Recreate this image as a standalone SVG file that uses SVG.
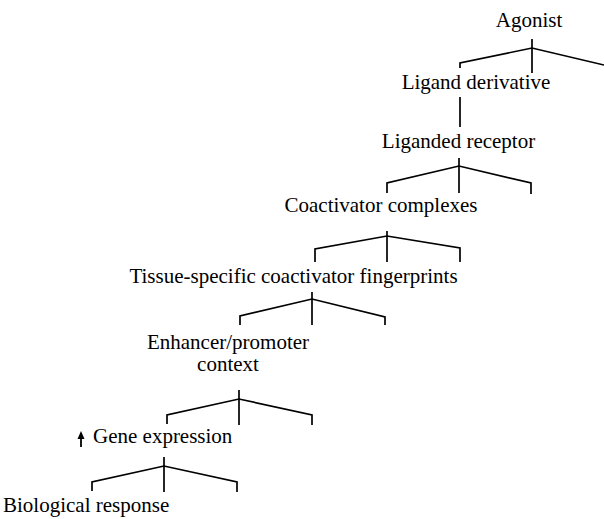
<svg xmlns="http://www.w3.org/2000/svg" width="604" height="519" viewBox="0 0 604 519">
<style>
.t{font-family:"Liberation Serif","Times New Roman",serif;font-size:21px;fill:#000;text-anchor:middle}
.s{text-anchor:start}
.c line,.c polyline{stroke:#000;stroke-width:1.7;fill:none;stroke-linejoin:miter}
</style>
<rect width="604" height="519" fill="#fff"/>
<g id="agonist"><text class="t" x="529" y="27">Agonist</text></g>
<g id="ligand-derivative"><text class="t" x="476" y="89">Ligand derivative</text></g>
<g id="liganded-receptor"><text class="t" x="458.5" y="148">Liganded receptor</text></g>
<g id="coactivator-complexes"><text class="t" x="381" y="212">Coactivator complexes</text></g>
<g id="tissue-specific"><text class="t" x="293.5" y="283">Tissue-specific coactivator fingerprints</text></g>
<g id="enhancer-promoter"><text class="t" x="228" y="349">Enhancer/promoter</text><text class="t" x="228" y="371">context</text></g>
<g id="gene-expression">
<line x1="81" y1="437" x2="81" y2="447" stroke="#000" stroke-width="1.8"/>
<polygon points="81,431 77.5,439 84.5,439" fill="#000"/>
<text class="t s" x="93" y="443">Gene expression</text></g>
<g id="biological-response"><text class="t s" x="3" y="512">Biological response</text></g>
<g id="connectors" class="c">
<line x1="532" y1="39" x2="532" y2="73"/>
<polyline points="460,68 460,63 532,48 604,65"/>
<line x1="460" y1="97" x2="460" y2="127"/>
<line x1="459" y1="158" x2="459" y2="193"/>
<polyline points="387,193 387,183 459,166 531,183 531,194"/>
<line x1="387" y1="231" x2="387" y2="262"/>
<polyline points="315,262 315,249 387,236 460,248 460,262"/>
<line x1="312" y1="292" x2="312" y2="325"/>
<polyline points="240,325 240,316 312,299 385,317 385,325"/>
<line x1="239" y1="390" x2="239" y2="425"/>
<polyline points="167,424 167,415 239,399 312,415 312,425"/>
<line x1="164" y1="457" x2="164" y2="492"/>
<polyline points="92,491 92,482 164,466 237,482 237,492"/>
</g>
</svg>
